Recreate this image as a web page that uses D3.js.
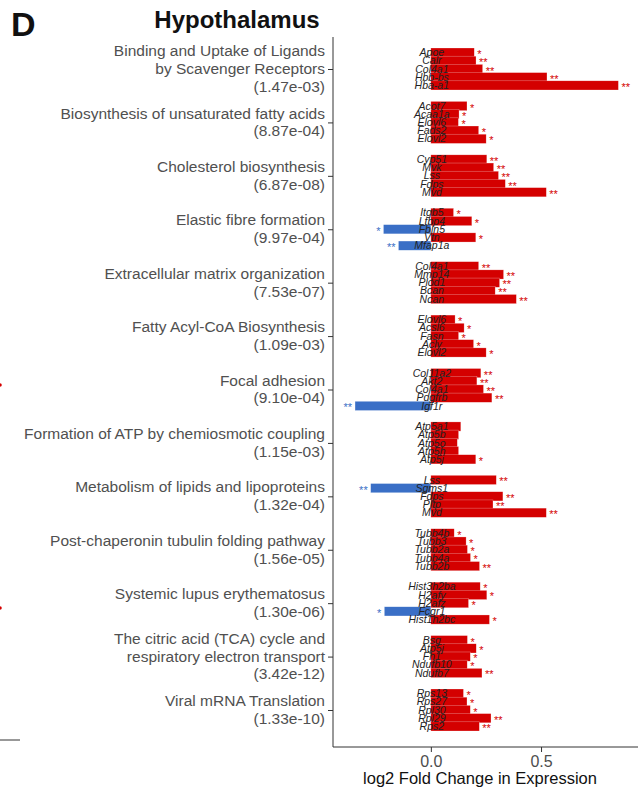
<!DOCTYPE html>
<html>
<head>
<meta charset="utf-8">
<script src="https://cdn.jsdelivr.net/npm/d3@7"></script>
<style>
  body { margin: 0; background: #fff; }
  svg { display: block; font-family: "Liberation Sans", Arial, sans-serif; }
  .axis path, .axis line { stroke: #333; }
  .axis text { fill: #4d4d4d; }
</style>
</head>
<body>
<div id="chart"></div>
<script>
// pathway labels (name lines) and adjusted p-values
const pathways = [
  ['Binding and Uptake of Ligands', 'by Scavenger Receptors'],
  ['Biosynthesis of unsaturated fatty acids'],
  ['Cholesterol biosynthesis'],
  ['Elastic fibre formation'],
  ['Extracellular matrix organization'],
  ['Fatty Acyl-CoA Biosynthesis'],
  ['Focal adhesion'],
  ['Formation of ATP by chemiosmotic coupling'],
  ['Metabolism of lipids and lipoproteins'],
  ['Post-chaperonin tubulin folding pathway'],
  ['Systemic lupus erythematosus'],
  ['The citric acid (TCA) cycle and', 'respiratory electron transport'],
  ['Viral mRNA Translation']
];
const pvals = ['1.47e-03', '8.87e-04', '6.87e-08', '9.97e-04', '7.53e-07', '1.09e-03',
  '9.10e-04', '1.15e-03', '1.32e-04', '1.56e-05', '1.30e-06', '3.42e-12', '1.33e-10'];

const genes = [
  ['Apoe', 'Calr', 'Col4a1', 'Hbb-bs', 'Hba-a1'],
  ['Acot7', 'Acaa1a', 'Elovl6', 'Fads2', 'Elovl2'],
  ['Cyp51', 'Mvk', 'Lss', 'Fdps', 'Mvd'],
  ['Itgb5', 'Ltbp4', 'Fbln5', 'Vtn', 'Mfap1a'],
  ['Col4a1', 'Mmp14', 'Plod1', 'Bcan', 'Ncan'],
  ['Elovl6', 'Acsl6', 'Fasn', 'Acly', 'Elovl2'],
  ['Col11a2', 'Akt2', 'Col4a1', 'Pdgfrb', 'Igf1r'],
  ['Atp5a1', 'Atp5b', 'Atp5o', 'Atp5h', 'Atp5j'],
  ['Lss', 'Sgms1', 'Fdps', 'Pltp', 'Mvd'],
  ['Tubb4b', 'Tubb3', 'Tubb2a', 'Tubb4a', 'Tubb2b'],
  ['Hist3h2ba', 'H2afy', 'H2afz', 'Fcgr1', 'Hist1h2bc'],
  ['Bsg', 'Atp5j', 'Fh1', 'Ndufb10', 'Ndufb7'],
  ['Rps13', 'Rps27', 'Rpl30', 'Rpl29', 'Rps2']
];
const logFC = [
  [0.197, 0.205, 0.235, 0.527, 0.851],
  [0.164, 0.128, 0.125, 0.217, 0.251],
  [0.254, 0.285, 0.307, 0.338, 0.524],
  [0.103, 0.186, -0.215, 0.204, -0.147],
  [0.217, 0.330, 0.312, 0.292, 0.388],
  [0.110, 0.151, 0.126, 0.194, 0.251],
  [0.227, 0.209, 0.239, 0.277, -0.344],
  [0.136, 0.126, 0.120, 0.126, 0.204],
  [0.297, -0.273, 0.327, 0.282, 0.524],
  [0.106, 0.160, 0.166, 0.180, 0.221],
  [0.224, 0.254, 0.171, -0.211, 0.266],
  [0.166, 0.206, 0.179, 0.165, 0.232],
  [0.148, 0.164, 0.179, 0.273, 0.220]
];
const signif = [
  ['*', '**', '**', '**', '**'],
  ['*', '*', '*', '*', '*'],
  ['**', '**', '**', '**', '**'],
  ['*', '*', '*', '*', '**'],
  ['**', '**', '**', '**', '**'],
  ['*', '*', '*', '*', '*'],
  ['**', '**', '**', '**', '**'],
  ['', '', '', '', '*'],
  ['**', '**', '**', '**', '**'],
  ['*', '*', '*', '*', '**'],
  ['*', '*', '*', '*', '*'],
  ['*', '*', '*', '*', '**'],
  ['*', '*', '*', '**', '**']
];
const xTicks = [0, 0.5];

const W = 638, H = 804;
const upCol = '#d40000', downCol = '#3a6fc6';

const rows = [];
genes.forEach((gs, i) => gs.forEach((g, j) => {
  rows.push({ p: i, j: j, gene: g, fc: logFC[i][j], sig: signif[i][j] });
}));

const svg = d3.select('#chart').append('svg')
  .attr('width', W).attr('height', H);

const x = d3.scaleLinear().domain([-0.444, 0.94]).range([333, 638]);
const y = d3.scalePoint().domain(d3.range(pathways.length)).range([69, 710]);
const yIn = d3.scaleBand().domain(d3.range(5)).range([-20.5, 20.5]);
const rowY = d => y(d.p) + yIn(d.j);

// bars
svg.append('g').selectAll('rect')
  .data(rows)
  .join('rect')
  .attr('x', d => x(Math.min(0, d.fc)))
  .attr('width', d => Math.abs(x(d.fc) - x(0)))
  .attr('y', d => rowY(d) - 0.5)
  .attr('height', yIn.bandwidth() + 1)
  .attr('fill', d => d.fc >= 0 ? upCol : downCol)
  .attr('stroke', '#fff').attr('stroke-opacity', 0.5).attr('stroke-width', 0.5);

// significance stars
svg.append('g').selectAll('text')
  .data(rows.filter(d => d.sig))
  .join('text')
  .attr('x', d => d.fc >= 0 ? x(d.fc) + 3 : x(d.fc) - 3)
  .attr('y', d => rowY(d) + yIn.bandwidth() / 2 + 5.5)
  .attr('text-anchor', d => d.fc >= 0 ? 'start' : 'end')
  .attr('fill', d => d.fc >= 0 ? upCol : downCol)
  .style('font-size', '11px')
  .text(d => d.sig);

// gene labels
svg.append('g').selectAll('text')
  .data(rows)
  .join('text')
  .attr('x', x(0) + 1)
  .attr('y', d => rowY(d) + yIn.bandwidth() / 2 + 3.6)
  .attr('text-anchor', 'middle')
  .attr('fill', '#222')
  .style('font-size', '10.5px')
  .style('font-style', 'italic')
  .text(d => d.gene);

// axes
const yAxis = svg.append('g')
  .attr('class', 'axis')
  .attr('transform', 'translate(333,0)')
  .call(d3.axisLeft(y).tickSize(5).tickFormat(''));
yAxis.select('.domain').attr('d', 'M0,37V747');

const xAxis = svg.append('g')
  .attr('class', 'axis')
  .attr('transform', 'translate(0,747)')
  .call(d3.axisBottom(x).tickValues(xTicks).tickSize(5).tickPadding(4).tickFormat(d3.format('.1f')));
xAxis.select('.domain').attr('d', 'M333,0H638');
xAxis.selectAll('text').style('font-size', '16px').attr('fill', '#4d4d4d');

// pathway labels
const lineH = 17.8;
pathways.forEach((names, i) => {
  const lines = names.concat(['(' + pvals[i] + ')']);
  const t = svg.append('text')
    .attr('text-anchor', 'end')
    .attr('fill', '#505050')
    .style('font-size', '15.5px');
  const y0 = y(i) - (lines.length - 1) * lineH / 2 + 5;
  lines.forEach((l, k) => {
    t.append('tspan').attr('x', 325).attr('y', y0 + k * lineH).text(l);
  });
});

// axis title
svg.append('text')
  .attr('x', 480).attr('y', 784)
  .attr('text-anchor', 'middle')
  .attr('fill', '#111')
  .style('font-size', '16.5px')
  .text('log2 Fold Change in Expression');

// panel title and letter
svg.append('text')
  .attr('x', 237).attr('y', 28)
  .attr('text-anchor', 'middle')
  .attr('fill', '#111')
  .style('font-size', '24px').style('font-weight', 'bold')
  .text('Hypothalamus');
svg.append('text')
  .attr('x', 11).attr('y', 36)
  .attr('fill', '#111')
  .style('font-size', '34px').style('font-weight', 'bold')
  .text('D');

// edge of the neighbouring panel
svg.append('line')
  .attr('x1', 0).attr('x2', 20).attr('y1', 740).attr('y2', 740)
  .attr('stroke', '#333');
svg.append('g').selectAll('circle')
  .data([385, 608])
  .join('circle')
  .attr('cx', 0).attr('cy', d => d)
  .attr('r', 1.8)
  .attr('fill', upCol);
</script>
</body>
</html>
